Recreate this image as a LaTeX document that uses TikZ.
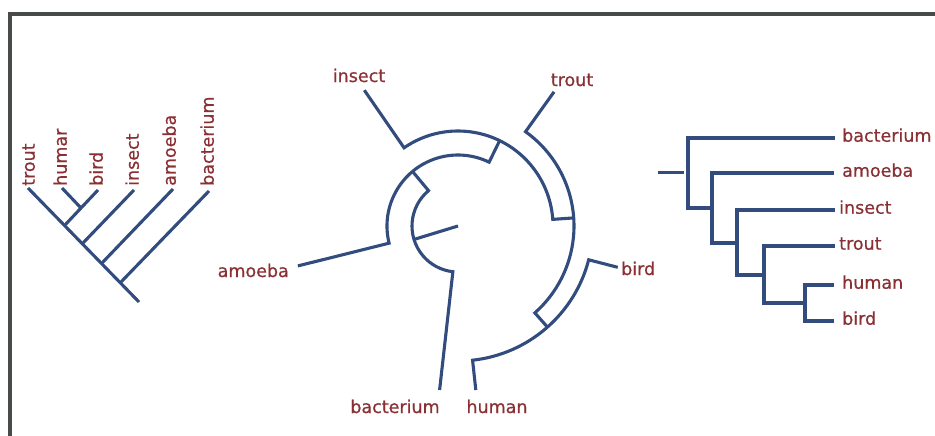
\documentclass[tikz,border=0pt]{standalone}
\usepackage{fontspec}
\setmainfont[FakeBold=0.6]{DejaVu Sans}
\definecolor{treeblue}{RGB}{50,76,126}
\definecolor{labred}{RGB}{138,48,52}
\definecolor{framegray}{RGB}{72,76,72}
\begin{document}
\begin{tikzpicture}[x=1pt,y=-1pt,
  br/.style={draw=treeblue,line width=3.1pt,line join=miter,line cap=butt},
  lab/.style={text=labred,font=\fontsize{17.5}{19}\selectfont,inner sep=0pt},
  vlab/.style={lab,rotate=90,anchor=mid west},
  framel/.style={draw=framegray,line width=4pt,line join=miter}]
\useasboundingbox (0,0) rectangle (935,436);
\fill[white] (0,0) rectangle (935,436);
% frame
\coordinate (fTR) at (937,14); \coordinate (fTL) at (10,14); \coordinate (fBL) at (10,438);
\draw[framel] (fTR) -- (fTL) -- (fBL);

% ---------- left tree ----------
\coordinate (LtTrout) at (28,188);
\coordinate (LjBird) at (65,225);
\coordinate (LjIns) at (83,243);
\coordinate (LjAmo) at (102,263);
\coordinate (LjBac) at (121,282);
\coordinate (Lend) at (139,302);
\coordinate (LtBird) at (98,190);
\coordinate (LtIns) at (134,190);
\coordinate (LtAmo) at (173,189);
\coordinate (LtBac) at (209,191);
\coordinate (LtHum) at (62,188);
\coordinate (LjHum) at (81,208);
\draw[br] (LtTrout) -- (Lend);
\draw[br] (LjBird) -- (LtBird);
\draw[br] (LjIns) -- (LtIns);
\draw[br] (LjAmo) -- (LtAmo);
\draw[br] (LjBac) -- (LtBac);
\draw[br] (LtHum) -- (LjHum);
\node[vlab] (lTrout) at (32,186) {trout};
\node[vlab] (lHum) at (64,186) {humar};
\node[vlab] (lBird) at (100,186) {bird};
\node[vlab] (lIns) at (136,186) {insect};
\node[vlab] (lAmo) at (173,186) {amoeba};
\node[vlab] (lBac) at (211,186) {bacterium};

% ---------- circular tree ----------
\begin{scope}[shift={(458,226)},y=1pt]
  \coordinate (C) at (0,0);
  \coordinate (Cs) at (197:46);
  \coordinate (Ca0) at (129.8:71);
  \coordinate (Cr1) at (129.8:46);
  \coordinate (CbacTip) at (263.6:165);
  \coordinate (CamoTip) at (194:165);
  \coordinate (CamoIn) at (194:71);
  \coordinate (Ci0) at (64:95);
  \coordinate (CinsTip) at (124.6:165);
  \coordinate (CinsIn) at (124.6:95);
  \coordinate (Ct0) at (4:116);
  \coordinate (CtroTip) at (54.4:165);
  \coordinate (CtroIn) at (54.4:116);
  \coordinate (Chb0) at (-48.5:135);
  \coordinate (CbirTip) at (-14.5:165);
  \coordinate (CbirIn) at (-14.5:135);
  \coordinate (ChumTip) at (-83.8:165);
  \draw[br] (C) -- (Cs);
  \draw[br] (Ca0) -- (Cr1) arc[start angle=129.8,end angle=263.6,radius=46] -- (CbacTip);
  \draw[br] (CamoTip) -- (CamoIn) arc[start angle=194,end angle=64,radius=71] -- (Ci0);
  \draw[br] (CinsTip) -- (CinsIn) arc[start angle=124.6,end angle=4,radius=95] -- (Ct0);
  \draw[br] (CtroTip) -- (CtroIn) arc[start angle=54.4,end angle=-48.5,radius=116] -- (Chb0);
  \draw[br] (CbirTip) -- (CbirIn) arc[start angle=-14.5,end angle=-83.8,radius=135] -- (ChumTip);
\end{scope}
\node[lab,anchor=base] (mIns) at (359,82) {insect};
\node[lab,anchor=base] (mTrout) at (572,86) {trout};
\node[lab,anchor=base east] (mAmo) at (289,277) {amoeba};
\node[lab,anchor=base west] (mBird) at (621,275) {bird};
\node[lab,anchor=base] (mBac) at (395,413) {bacterium};
\node[lab,anchor=base] (mHum) at (497,413) {human};

% ---------- right tree ----------
\coordinate (RrootA) at (658,172.5);
\coordinate (RrootB) at (684,172.5);
\coordinate (N1) at (688,172.5);
\coordinate (N2) at (712,208);
\coordinate (N3) at (737,243);
\coordinate (N4) at (764,275);
\coordinate (N5) at (805,303);
\coordinate (RtBac) at (835,138);
\coordinate (RtAmo) at (834,173);
\coordinate (RtIns) at (835,210);
\coordinate (RtTro) at (835,246);
\coordinate (RtHum) at (834,285);
\coordinate (RtBir) at (834,321);
\draw[br] (RrootA) -- (RrootB);
\draw[br] (RtBac) -| (N1) |- (N2);
\draw[br] (RtAmo) -| (N2) |- (N3);
\draw[br] (RtIns) -| (N3) |- (N4);
\draw[br] (RtTro) -| (N4) |- (N5);
\draw[br] (RtHum) -| (N5) |- (RtBir);
\node[lab,anchor=mid west] (rBac) at (842,139) {bacterium};
\node[lab,anchor=mid west] (rAmo) at (842,174) {amoeba};
\node[lab,anchor=mid west] (rIns) at (839,211) {insect};
\node[lab,anchor=mid west] (rTro) at (839,247) {trout};
\node[lab,anchor=mid west] (rHum) at (842,286) {human};
\node[lab,anchor=mid west] (rBir) at (842,322) {bird};
\end{tikzpicture}
\end{document}
